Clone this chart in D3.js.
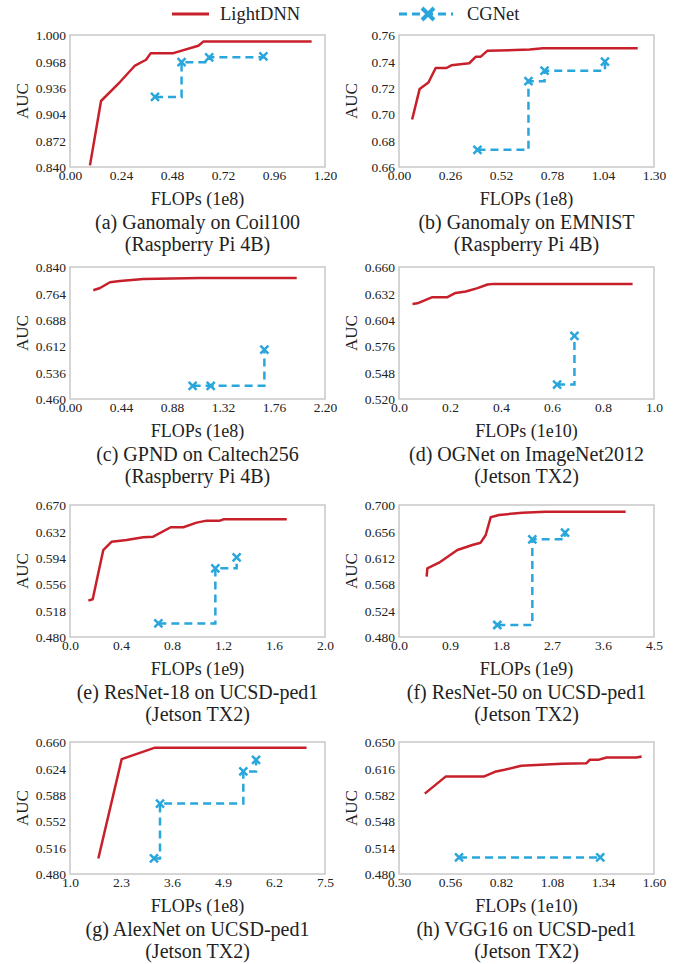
<!DOCTYPE html>
<html>
<head>
<meta charset="utf-8">
<script src="https://cdn.jsdelivr.net/npm/d3@7"></script>
<style>
  body { margin: 0; background: #fff; }
  svg text { font-family: "Liberation Serif", "Times New Roman", Times, "DejaVu Serif", serif !important; }
</style>
</head>
<body>
<svg id="chart"></svg>
<script>
const width = 673;
const height = 964;

// LightDNN curves, [FLOPs, AUC]
const lightA = [[0.094,0.842],[0.146,0.920],[0.235,0.943],[0.306,0.963],[0.358,0.970],[0.38,0.978],[0.486,0.978],[0.604,0.987],[0.627,0.992],[1.137,0.992]];
const lightB = [[0.067,0.696],[0.105,0.719],[0.15,0.724],[0.187,0.735],[0.242,0.735],[0.267,0.737],[0.358,0.7386],[0.392,0.7436],[0.417,0.7436],[0.45,0.748],[0.667,0.749],[0.733,0.750],[1.217,0.750]];
const lightC = [[0.201,0.773],[0.259,0.7795],[0.345,0.796],[0.431,0.800],[0.633,0.8055],[1.122,0.808],[1.956,0.808]];
const lightD = [[0.053,0.6208],[0.072,0.6215],[0.131,0.628],[0.19,0.628],[0.222,0.6325],[0.262,0.634],[0.308,0.6376],[0.347,0.6414],[0.373,0.6421],[0.916,0.642]];
const lightE = [[0.144,0.5323],[0.178,0.5343],[0.261,0.6052],[0.327,0.6172],[0.444,0.6196],[0.575,0.6235],[0.653,0.6244],[0.79,0.638],[0.889,0.638],[0.993,0.6446],[1.072,0.6475],[1.176,0.6475],[1.203,0.6494],[1.7,0.6494]];
const lightF = [[0.488,0.5805],[0.5,0.5945],[0.706,0.6039],[1.03,0.625],[1.294,0.6333],[1.441,0.6372],[1.53,0.65],[1.618,0.6795],[1.765,0.6833],[2.176,0.6872],[2.588,0.6888],[4.0,0.6888]];
const lightG = [[1.722,0.5012],[2.317,0.6366],[3.167,0.6523],[7.03,0.6523]];
const lightH = [[0.4315,0.5835],[0.539,0.6057],[0.735,0.6057],[0.795,0.6121],[0.838,0.6142],[0.923,0.6193],[1.128,0.6219],[1.256,0.6227],[1.272,0.627],[1.315,0.627],[1.358,0.630],[1.511,0.630],[1.537,0.6312]];

// CGNet points (step curve)
const cgA = [[0.40,0.925],[0.525,0.967],[0.655,0.973],[0.91,0.974]];
const cgB = [[0.40,0.673],[0.66,0.725],[0.742,0.733],[1.05,0.7398]];
const cgC = [[1.058,0.498],[1.214,0.498],[1.677,0.602]];
const cgD = [[0.62,0.5353],[0.688,0.587]];
const cgE = [[0.693,0.4996],[1.14,0.5788],[1.307,0.5946]];
const cgF = [[1.735,0.500],[2.353,0.6428],[2.93,0.6539]];
const cgG = [[3.141,0.5012],[3.294,0.576],[5.418,0.6198],[5.742,0.6356]];
const cgH = [[0.606,0.5013],[1.326,0.5013]];

// tick values
const xTicksA = [0, 0.24, 0.48, 0.72, 0.96, 1.20];
const yTicksA = [0.840, 0.872, 0.904, 0.936, 0.968, 1.000];
const xTicksB = [0, 0.26, 0.52, 0.78, 1.04, 1.30];
const yTicksB = [0.66, 0.68, 0.70, 0.72, 0.74, 0.76];
const xTicksC = [0, 0.44, 0.88, 1.32, 1.76, 2.20];
const yTicksC = [0.460, 0.536, 0.612, 0.688, 0.764, 0.840];
const xTicksD = [0, 0.2, 0.4, 0.6, 0.8, 1.0];
const yTicksD = [0.520, 0.548, 0.576, 0.604, 0.632, 0.660];
const xTicksE = [0, 0.4, 0.8, 1.2, 1.6, 2.0];
const yTicksE = [0.480, 0.518, 0.556, 0.594, 0.632, 0.670];
const xTicksF = [0, 0.9, 1.8, 2.7, 3.6, 4.5];
const yTicksF = [0.480, 0.524, 0.568, 0.612, 0.656, 0.700];
const xTicksG = [1.0, 2.3, 3.6, 4.9, 6.2, 7.5];
const yTicksG = [0.480, 0.516, 0.552, 0.588, 0.624, 0.660];
const xTicksH = [0.30, 0.56, 0.82, 1.08, 1.34, 1.60];
const yTicksH = [0.480, 0.514, 0.548, 0.582, 0.616, 0.650];

const xLabels = ["FLOPs (1e8)", "FLOPs (1e8)", "FLOPs (1e8)", "FLOPs (1e10)", "FLOPs (1e9)", "FLOPs (1e9)", "FLOPs (1e8)", "FLOPs (1e10)"];
const captions = ["(a) Ganomaly on Coil100", "(b) Ganomaly on EMNIST", "(c) GPND on Caltech256", "(d) OGNet on ImageNet2012",
  "(e) ResNet-18 on UCSD-ped1", "(f) ResNet-50 on UCSD-ped1", "(g) AlexNet on UCSD-ped1", "(h) VGG16 on UCSD-ped1"];
const devices = ["(Raspberry Pi 4B)", "(Raspberry Pi 4B)", "(Raspberry Pi 4B)", "(Jetson TX2)", "(Jetson TX2)", "(Jetson TX2)", "(Jetson TX2)", "(Jetson TX2)"];

const red = "#c8202b";
const blue = "#29a6dc";

const panels = [
  {light: lightA, cg: cgA, xt: xTicksA, yt: yTicksA, xd: 2, yd: 3},
  {light: lightB, cg: cgB, xt: xTicksB, yt: yTicksB, xd: 2, yd: 2},
  {light: lightC, cg: cgC, xt: xTicksC, yt: yTicksC, xd: 2, yd: 3},
  {light: lightD, cg: cgD, xt: xTicksD, yt: yTicksD, xd: 1, yd: 3},
  {light: lightE, cg: cgE, xt: xTicksE, yt: yTicksE, xd: 1, yd: 3},
  {light: lightF, cg: cgF, xt: xTicksF, yt: yTicksF, xd: 1, yd: 3},
  {light: lightG, cg: cgG, xt: xTicksG, yt: yTicksG, xd: 1, yd: 3},
  {light: lightH, cg: cgH, xt: xTicksH, yt: yTicksH, xd: 2, yd: 3}
];

const colX = [70, 399];
const rowY = [35, 267, 505, 742];
const pw = 255, ph = 132;
const serif = "'Liberation Serif', 'Times New Roman', Times, serif";

const svg = d3.select("#chart")
    .attr("width", width)
    .attr("height", height)
    .attr("font-family", serif);

const xMark = "M-4,-4L4,4M-4,4L4,-4";

panels.forEach((p, i) => {
    const x0 = colX[i % 2], y0 = rowY[Math.floor(i / 2)];
    const g = svg.append("g").attr("transform", `translate(${x0},${y0})`);

    const x = d3.scaleLinear().domain([p.xt[0], p.xt[p.xt.length - 1]]).range([0, pw]);
    const y = d3.scaleLinear().domain([p.yt[0], p.yt[p.yt.length - 1]]).range([ph, 0]);

    // axes without tick marks
    const xAxis = g.append("g")
        .attr("transform", `translate(0,${ph})`)
        .call(d3.axisBottom(x).tickValues(p.xt).tickSize(0).tickPadding(3).tickFormat(d3.format(`.${p.xd}f`)));
    const yAxis = g.append("g")
        .call(d3.axisLeft(y).tickValues(p.yt).tickSize(0).tickPadding(4).tickFormat(d3.format(`.${p.yd}f`)));
    [xAxis, yAxis].forEach(a => {
        a.attr("font-family", serif).attr("font-size", 13.5);
        a.select(".domain").remove();
        a.selectAll("text").attr("fill", "#222");
    });
    yAxis.selectAll("text").attr("dy", "0.35em");

    // frame
    g.append("rect")
        .attr("width", pw).attr("height", ph)
        .attr("fill", "none")
        .attr("stroke", "#c8c8c8")
        .attr("stroke-width", 1.5);

    g.append("path")
        .datum(p.light)
        .attr("d", d3.line().x(d => x(d[0])).y(d => y(d[1])))
        .attr("fill", "none")
        .attr("stroke", red)
        .attr("stroke-width", 2.5)
        .attr("stroke-linejoin", "round");

    g.append("path")
        .datum(p.cg)
        .attr("d", d3.line().curve(d3.curveStepAfter).x(d => x(d[0])).y(d => y(d[1])))
        .attr("fill", "none")
        .attr("stroke", blue)
        .attr("stroke-width", 2.5)
        .attr("stroke-dasharray", "8,5");

    g.selectAll(".mk")
        .data(p.cg)
        .enter().append("path")
        .attr("class", "mk")
        .attr("transform", d => `translate(${x(d[0])},${y(d[1])})`)
        .attr("d", xMark)
        .attr("stroke", blue)
        .attr("stroke-width", 2.5)
        .attr("fill", "none");

    // labels
    g.append("text")
        .attr("transform", `translate(-48,${ph / 2}) rotate(-90)`)
        .attr("text-anchor", "middle")
        .attr("dy", "0.35em")
        .attr("font-size", 17)
        .attr("fill", "#222")
        .text("AUC");

    g.append("text")
        .attr("x", pw / 2).attr("y", ph + 32)
        .attr("text-anchor", "middle")
        .attr("dy", "0.35em")
        .attr("font-size", 18)
        .attr("fill", "#222")
        .text(xLabels[i]);

    g.append("text")
        .attr("x", pw / 2).attr("y", ph + 55)
        .attr("text-anchor", "middle")
        .attr("dy", "0.35em")
        .attr("font-size", 20)
        .attr("fill", "#222")
        .text(captions[i]);

    g.append("text")
        .attr("x", pw / 2).attr("y", ph + 77)
        .attr("text-anchor", "middle")
        .attr("dy", "0.35em")
        .attr("font-size", 20)
        .attr("fill", "#222")
        .text(devices[i]);
});

// legend
const leg = svg.append("g").attr("transform", "translate(0,14)");
leg.append("line")
    .attr("x1", 172).attr("x2", 209)
    .attr("stroke", red).attr("stroke-width", 3);
leg.append("text")
    .attr("x", 220).attr("dy", "0.35em")
    .attr("font-size", 18.5).attr("fill", "#222")
    .text("LightDNN");
leg.append("line")
    .attr("x1", 399).attr("x2", 453)
    .attr("stroke", blue).attr("stroke-width", 3)
    .attr("stroke-dasharray", "8,5");
leg.append("path")
    .attr("transform", "translate(428,0)")
    .attr("d", "M-6,-6L6,6M-6,6L6,-6")
    .attr("stroke", blue).attr("stroke-width", 4).attr("fill", "none");
leg.append("text")
    .attr("x", 467).attr("dy", "0.35em")
    .attr("font-size", 18.5).attr("fill", "#222")
    .text("CGNet");
</script>
</body>
</html>
